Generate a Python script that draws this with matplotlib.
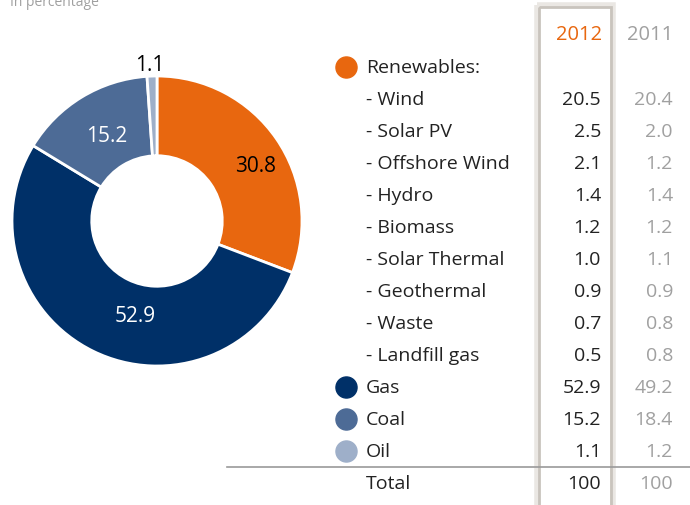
import matplotlib.pyplot as plt
from matplotlib.patches import Rectangle

plt.rcParams['font.family'] = ['Open Sans', 'DejaVu Sans']

# pie data
pie_labels = ['Renewables', 'Gas', 'Coal', 'Oil']
pie_values = [30.8, 52.9, 15.2, 1.1]
pie_colors = ['#E8670F', '#003068', '#4D6B96', '#9EAFC9']

# table data
row_names = ['Renewables:', '- Wind', '- Solar PV', '- Offshore Wind', '- Hydro',
             '- Biomass', '- Solar Thermal', '- Geothermal', '- Waste',
             '- Landfill gas', 'Gas', 'Coal', 'Oil']
vals_2012 = ['', '20.5', '2.5', '2.1', '1.4', '1.2', '1.0', '0.9', '0.7', '0.5',
             '52.9', '15.2', '1.1']
vals_2011 = ['', '20.4', '2.0', '1.2', '1.4', '1.2', '1.1', '0.9', '0.8', '0.8',
             '49.2', '18.4', '1.2']
marker_colors = {'Renewables:': '#E8670F', 'Gas': '#003068',
                 'Coal': '#4D6B96', 'Oil': '#9EAFC9'}
total_2012 = '100'
total_2011 = '100'

W, H = 690, 506
fig = plt.figure(figsize=(W / 100, H / 100), dpi=100)

# background axes in pixel coords
ax = fig.add_axes([0, 0, 1, 1])
ax.set_xlim(0, W)
ax.set_ylim(H, 0)
ax.axis('off')

grey = '#A0A0A0'
dark = '#222222'
orange = '#E8670F'
fs = 14

ax.text(10, 6, 'In percentage', fontsize=10, color=grey, va='baseline', ha='left')

# 2012 column box (with soft shadow)
ax.add_patch(Rectangle((537, 6), 76, 520, fill=False, edgecolor='#EAE7E3', lw=4))
ax.add_patch(Rectangle((539, 8), 72, 520, fill=False, edgecolor='#C9C4BD', lw=2))
ax.text(602, 35, '2012', fontsize=14.5, color=orange, ha='right', va='center')
ax.text(673, 35, '2011', fontsize=14.5, color=grey, ha='right', va='center')

y0, dy = 68, 32
for i, name in enumerate(row_names):
    y = y0 + i * dy
    if name in marker_colors:
        ax.scatter([346], [y], s=230, color=marker_colors[name], zorder=3)
    ax.text(366, y, name, fontsize=fs, color=dark, ha='left', va='center')
    ax.text(601, y, vals_2012[i], fontsize=fs, color=dark, ha='right', va='center')
    ax.text(673, y, vals_2011[i], fontsize=fs, color=grey, ha='right', va='center')

ax.plot([227, 690], [468, 468], color='#9A9A9A', lw=1.2)
yt = y0 + len(row_names) * dy
ax.text(366, yt, 'Total', fontsize=fs, color=dark, ha='left', va='center')
ax.text(601, yt, total_2012, fontsize=fs, color=dark, ha='right', va='center')
ax.text(673, yt, total_2011, fontsize=fs, color=grey, ha='right', va='center')

# donut
cx, cy, r = 157, 222, 145
pax = fig.add_axes([(cx - r) / W, (H - cy - r) / H, 2 * r / W, 2 * r / H])
wedges, _ = pax.pie(pie_values, colors=pie_colors, startangle=90, counterclock=False,
                    radius=1, wedgeprops=dict(width=0.55, edgecolor='white', linewidth=2))
pax.set_xlim(-1, 1)
pax.set_ylim(-1, 1)
pax.set_aspect('equal')

label_pos = [(0.68, 0.38, 'black'), (-0.15, -0.65, 'white'),
             (-0.35, 0.59, 'white'), (-0.05, 1.08, 'black')]
for v, (x, y, c) in zip(pie_values, label_pos):
    pax.text(x, y, f'{v:.1f}', fontsize=15, color=c, ha='center', va='center')

fig.savefig('out.png', dpi=100)
